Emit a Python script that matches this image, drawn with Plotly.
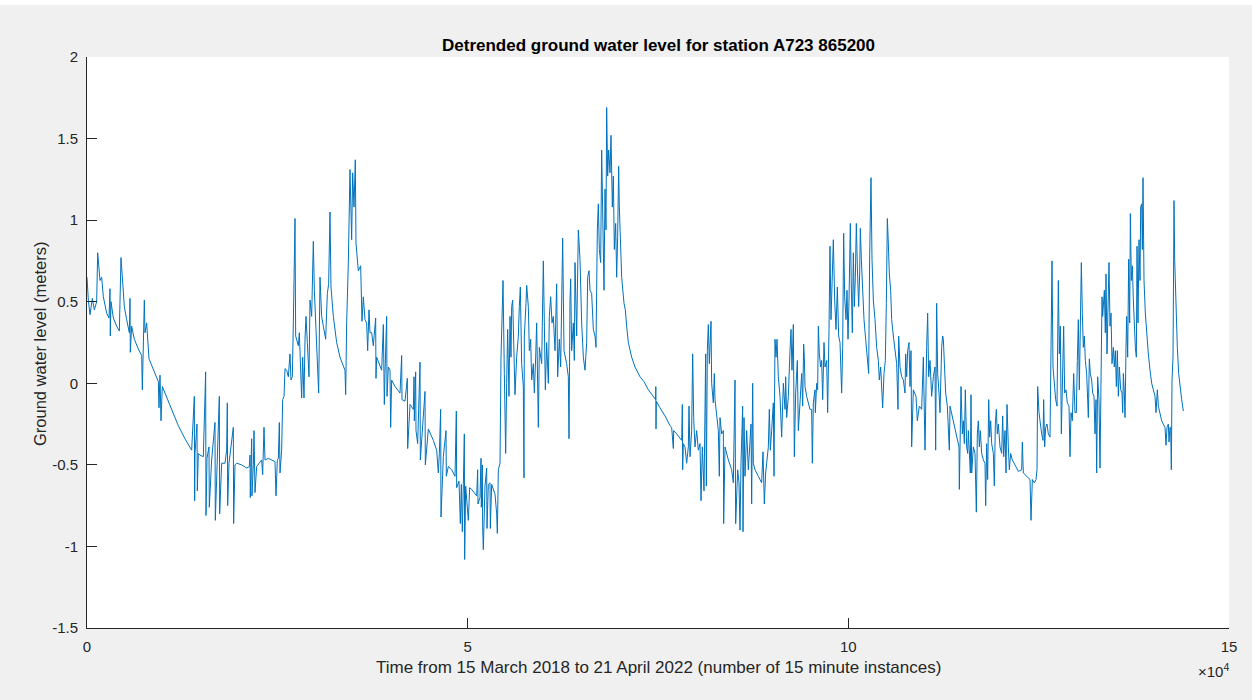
import plotly.graph_objects as go

# ---- data (time index in 15-minute instances, level in m) ----
time_2018a = [0, 175, 394, 700, 963, 1269, 1401, 1488, 1707, 1926,
              2145, 2583, 2889, 3020, 3060, 3152, 3458, 3896, 4246, 4465,
              4640, 4903, 5210, 5560, 5647, 5690, 5866, 6216, 6742, 7180,
              7267, 7400, 7530, 7617, 7836, 8143, 8712, 9369, 9456, 9587,
              9719, 9894, 10244, 11120, 11995, 12871, 13747, 14097, 14140, 14184,
              14447, 14490, 14622, 14841, 15279, 15585, 15630, 15760, 16023, 16065,
              16373, 16811, 16855, 17074, 17380, 17425, 17687, 18125, 18343, 18431,
              18475, 18650, 19219, 19260, 19438]
level_2018a = [0.65, 0.51, 0.42, 0.52, 0.45, 0.50, 0.80, 0.74, 0.63, 0.65,
               0.53, 0.43, 0.40, 0.58, 0.29, 0.50, 0.40, 0.35, 0.32, 0.77,
               0.63, 0.47, 0.39, 0.31, 0.52, 0.19, 0.35, 0.27, 0.21, 0.17,
               -0.04, 0.39, 0.51, 0.31, 0.37, 0.15, 0.08, 0.01, -0.15, 0.05,
               -0.23, -0.02, -0.06, -0.16, -0.26, -0.34, -0.41, -0.08, -0.72, -0.43,
               -0.25, -0.66, -0.43, -0.44, -0.45, 0.07, -0.81, -0.46, -0.39, -0.76,
               -0.47, -0.24, -0.84, -0.47, -0.08, -0.80, -0.49, -0.49, -0.41, -0.12,
               -0.75, -0.49, -0.27, -0.86, -0.50]

time_2018b = [19659, 20315, 20972, 21322, 21410, 21450, 21541, 21629, 21670, 21848,
              21935, 22067, 22285, 22723, 22942, 23073, 23249, 23380, 23818, 24256,
              24693, 24825, 25000, 25131, 25262, 25350, 25569, 25700, 25875, 26007,
              26226, 26445, 26663, 26795, 26970, 27101, 27189, 27320, 27408, 27758,
              27890, 28065, 28196, 28327, 28502, 28634, 28765, 28940, 29159, 29290,
              29509, 29728, 29860, 30078, 30253, 30428, 30604, 30823, 31041, 31348,
              31567, 31742, 31917, 32048, 32355, 32793, 33230, 33887, 33975, 34106,
              34325, 34544, 34763, 34894, 35069, 35244, 35332, 35638, 35945, 36120,
              36295, 36514, 36733, 36864, 37039, 37170, 37390, 37608, 37915, 37959,
              38046]
level_2018b = [-0.49, -0.50, -0.52, -0.51, -0.44, -0.70, -0.51, -0.34, -0.69, -0.50,
               -0.29, -0.67, -0.51, -0.48, -0.47, -0.56, -0.27, -0.47, -0.46, -0.47,
               -0.48, -0.69, -0.47, -0.46, -0.24, -0.55, -0.41, -0.10, -0.08, 0.09,
               0.08, 0.04, 0.18, 0.02, 0.04, 0.37, 0.61, 1.01, 0.29, 0.23,
               0.31, 0.10, -0.09, 0.16, -0.09, 0.27, 0.41, 0.25, 0.04, 0.51,
               0.41, 0.87, 0.57, 0.33, 0.14, -0.06, 0.65, 0.41, 0.35, 0.27,
               0.55, 0.61, 1.05, 0.59, 0.41, 0.25, 0.16, 0.08, -0.07, 0.37,
               0.74, 1.31, 0.88, 1.29, 1.08, 1.37, 0.86, 0.69, 0.72, 0.38,
               0.53, 0.39, 0.37, 0.20, 0.45, 0.31, 0.31, 0.23, 0.40, 0.03,
               0.16]

time_2019 = [38267, 38705, 38924, 39055, 39142, 39361, 39405, 39580, 39799, 39887,
             40018, 40456, 41113, 41331, 41375, 41769, 42076, 42120, 42426, 42864,
             42951, 42995, 43170, 43214, 43433, 43520, 43739, 43783, 44177, 44396,
             44440, 44834, 45491, 45928, 46147, 46279, 46454, 46498, 46804, 47154,
             47198, 47461, 47899, 48336, 48511, 48555, 48862, 49037, 49168, 49299,
             49431, 49562, 49606, 49737, 50087, 50264, 50525, 51182, 51313, 51357,
             51620, 51751, 51795, 51926, 51970, 52058, 52276, 52495, 52539, 52714,
             52933, 52977, 53152, 53590, 53809, 53897, 54028, 54247, 54378, 54553,
             54641, 54816, 54991, 55122, 55253, 55428, 55560, 55691, 55779, 55910,
             56041, 56216, 56435, 56654, 56785, 56917, 57092, 57311, 57398]
level_2019 = [0.13, 0.08, 0.36, -0.13, 0.06, 0.41, -0.08, 0.10, 0.08, -0.27,
              0.02, -0.02, -0.06, 0.17, -0.10, -0.11, 0.03, -0.40, -0.13, -0.16,
              0.04, -0.23, 0.07, -0.29, -0.37, -0.21, 0.13, -0.47, -0.23, -0.05,
              -0.50, -0.28, -0.35, -0.41, -0.55, -0.43, -0.16, -0.82, -0.45, -0.29,
              -0.57, -0.51, -0.53, -0.57, -0.17, -0.64, -0.60, -0.86, -0.62, -0.91,
              -0.62, -0.31, -1.08, -0.63, -0.84, -0.64, -0.65, -0.69, -0.53, -0.74,
              -0.70, -0.46, -0.76, -0.50, -0.88, -1.02, -0.63, -0.52, -0.89, -0.62,
              -0.61, -0.89, -0.62, -0.68, -0.80, -0.92, -0.53, -0.49, 0.16, 0.41,
              0.63, 0.06, -0.43, 0.00, 0.33, -0.08, 0.41, 0.16, 0.47, 0.51,
              0.22, -0.07, 0.16, 0.29, 0.47, 0.59, 0.12, -0.02, -0.58]

time_2020a = [57444, 57663, 57751, 57970, 58101, 58276, 58407, 58626, 58758, 58933,
              59064, 59283, 59414, 59721, 59940, 60071, 60202, 60377, 60596, 60728,
              60903, 61078, 61253, 61472, 61691, 61822, 62041, 62216, 62348, 62479,
              62654, 63004, 63223, 63311, 63442, 63530, 63661, 63880, 64011, 64099,
              64318, 64537, 64755, 64974, 65193, 65412, 65631, 65762, 65937, 66069,
              66288, 66507, 66726, 66857, 67032, 67163, 67295, 67470, 67601, 67732,
              67908, 68039, 68170, 68258, 68389, 68520, 68696, 68827, 69002, 69133,
              69265, 69440, 69571, 69702, 69834, 69921, 70009, 70228, 70534, 70709,
              70884, 71103, 71541, 71979, 72636, 73161, 73730, 74387, 74693, 74713,
              74737, 74780, 75263, 75919, 76576]
level_2020a = [0.29, 0.49, 0.60, 0.47, 0.20, 0.27, 0.02, 0.12, -0.06, 0.16,
               0.37, -0.27, 0.22, 0.12, 0.75, 0.37, -0.04, 0.25, 0.00, 0.41,
               0.53, 0.37, 0.41, 0.20, 0.61, 0.04, 0.27, 0.10, 0.55, 0.89,
               0.20, 0.12, 0.04, -0.34, 0.51, 0.64, 0.20, 0.37, 0.14, 0.74,
               0.29, 0.94, 0.76, 0.37, 0.16, 0.08, 0.25, 0.65, 0.69, 0.57,
               0.55, 0.33, 0.29, 0.22, 0.94, 1.10, 0.82, 0.74, 1.43, 1.14,
               0.57, 1.19, 0.94, 1.69, 1.27, 1.43, 1.29, 1.52, 1.08, 1.27,
               0.82, 0.98, 0.65, 0.90, 1.33, 1.08, 0.92, 0.65, 0.49, 0.45,
               0.35, 0.25, 0.16, 0.10, 0.04, 0.01, -0.04, -0.08, -0.10, -0.02,
               -0.28, -0.11, -0.15, -0.20, -0.26]

time_2020b = [76796, 77015, 77060, 77452, 78109, 78197, 78240, 78328, 78547, 78766,
              78985, 79072, 79204, 79422, 79554, 79685, 79860, 80079, 80298, 80517,
              80648, 80823, 81042, 81174, 81261, 81349, 81480, 81611, 81743, 81962,
              82049, 82268, 82399, 82487, 82706, 82925, 83056, 83144, 83363, 83582,
              83625, 83800, 84238, 84676, 84895, 85114, 85201, 85464, 85639, 85771,
              85902, 86121, 86165, 86296, 86427, 86646, 86865, 87084, 87215, 87303,
              87434, 87522, 87741, 88178, 88616, 88791, 88966, 89142, 89273, 89492,
              89623, 89754, 89930, 90149, 90236, 90367, 90499, 90630, 90805, 91024,
              91243, 91462, 91681, 91768, 91900, 92119, 92338, 92469, 92600, 92775,
              92907, 93082, 93301, 93432, 93651, 93870, 94001, 94133, 94220, 94308,
              94527, 94745, 94964, 95183, 95271, 95402, 95621]
level_2020b = [-0.27, -0.40, -0.29, -0.31, -0.35, -0.13, -0.53, -0.37, -0.39, -0.49,
               -0.39, -0.14, -0.45, -0.29, 0.18, -0.21, -0.39, -0.29, -0.41, -0.37,
               -0.72, -0.39, -0.66, -0.16, 0.18, -0.63, 0.20, 0.36, 0.12, 0.38,
               0.00, -0.12, 0.06, -0.10, -0.21, -0.29, -0.57, -0.21, -0.31, -0.29,
               -0.86, -0.39, -0.47, -0.53, -0.61, 0.02, -0.86, -0.53, -0.61, -0.90,
               -0.49, -0.14, -0.91, -0.21, -0.57, -0.29, -0.53, -0.39, -0.25, -0.74,
               0.00, -0.49, -0.53, -0.57, -0.61, -0.42, -0.74, -0.55, -0.49, -0.39,
               -0.16, -0.41, -0.29, -0.12, -0.57, 0.27, 0.16, 0.27, 0.04, -0.08,
               -0.33, 0.00, -0.16, 0.04, -0.21, -0.08, 0.20, 0.33, 0.08, 0.36,
               -0.45, -0.06, 0.14, -0.29, -0.12, 0.06, -0.14, 0.24, 0.16, -0.02,
               -0.08, -0.12, -0.16, -0.16, -0.49, -0.12, -0.04]

time_2021a = [95666, 95842, 95973, 96061, 96192, 96367, 96498, 96630, 96805, 96936,
              97155, 97286, 97461, 97593, 97724, 97899, 98031, 98206, 98381, 98556,
              98731, 98906, 99038, 99125, 99256, 99388, 99519, 99694, 99826, 99957,
              100088, 100176, 100263, 100395, 100526, 100657, 100789, 100920, 101051, 101183,
              101358, 101489, 101577, 101708, 101883, 102058, 102277, 102496, 102671, 102803,
              102890, 102978, 103109, 103284, 103503, 103722, 103941, 104072, 104247, 104378,
              104510, 104685, 104860, 104991, 105123, 105254, 105385, 105561, 105692, 105911,
              106130, 106349, 106524, 106611, 106787, 107005, 107224, 107443, 107531, 107662,
              107793, 107968, 108100, 108231, 108319, 108538, 108888, 109063, 109326, 109632,
              109851, 110070, 110289, 110420, 110552, 110727, 110946, 111165, 111384, 111471,
              111602, 111734, 111909, 112040, 112259, 112390, 112478, 112609, 112784, 113003,
              113266, 113354, 113791, 114229, 114536, 114580]
level_2021a = [-0.18, 0.00, -0.04, 0.35, 0.18, 0.10, 0.14, -0.10, 0.25, 0.10,
               0.14, -0.18, 0.33, 0.84, 0.39, 0.80, 0.88, 0.51, 0.33, 0.59,
               0.29, 0.25, 0.10, -0.06, 0.22, 0.92, 0.53, 0.39, 0.57, 0.27,
               0.51, 0.84, 0.98, 0.59, 0.31, 0.80, 0.47, 0.65, 0.98, 0.72,
               0.47, 0.67, 0.95, 0.76, 0.55, 0.39, 0.27, 0.16, 0.06, 0.78,
               0.94, 1.26, 0.76, 0.51, 0.39, 0.22, 0.14, 0.02, 0.10, -0.06,
               -0.15, 0.06, 0.14, 0.49, 1.01, 0.86, 0.67, 0.57, 0.39, 0.29,
               0.22, 0.12, -0.16, 0.29, 0.10, 0.04, 0.02, -0.06, 0.18, 0.04,
               0.20, 0.25, -0.02, 0.20, -0.39, -0.04, -0.08, -0.23, -0.14, -0.16,
               0.16, -0.41, 0.22, 0.43, 0.04, 0.14, -0.08, 0.04, 0.10, -0.41,
               0.49, 0.06, -0.06, -0.18, 0.22, 0.29, 0.27, 0.10, -0.06, -0.14,
               -0.41, -0.14, -0.23, -0.31, -0.39, -0.65]

time_2021b = [114800, 114975, 115107, 115238, 115369, 115544, 115676, 115763, 115895, 116026,
              116113, 116201, 116420, 116639, 116814, 116945, 117077, 117208, 117339, 117514,
              117733, 117952, 118040, 118171, 118302, 118434, 118565, 118696, 118828, 119047,
              119178, 119309, 119441, 119572, 119703, 119922, 120141, 120273, 120404, 120579,
              120710, 120842, 121017, 121148, 121323, 121542, 121892, 122330, 122768, 122856,
              122987, 123425, 123863, 123994, 124169, 124432, 124651, 124782, 124869, 125045,
              125220, 125395, 125570, 125657, 125789, 125920, 126095, 126270, 126489, 126621,
              126752, 126883, 127058, 127233, 127409, 127584, 127715, 127846, 127978, 128109,
              128284, 128415, 128590, 128766, 128985, 129116, 129247, 129423, 129598, 129773,
              129948, 130079, 130211, 130342, 130473, 130605, 130736, 130867, 130999, 131130,
              131305, 131524, 131655, 131787, 131962, 132093, 132268, 132400, 132531, 132619,
              132750, 132925, 133056, 133187, 133319, 133406]
level_2021b = [-0.02, -0.31, -0.23, -0.37, -0.04, -0.39, -0.43, -0.29, -0.41, -0.55,
               -0.07, -0.55, -0.39, -0.43, -0.79, -0.31, -0.23, -0.39, -0.29, -0.43,
               -0.47, -0.49, -0.75, -0.37, -0.59, -0.10, -0.33, -0.23, -0.37, -0.43,
               -0.63, -0.25, -0.16, -0.31, -0.25, -0.39, -0.43, -0.20, -0.45, -0.29,
               -0.55, -0.13, -0.39, -0.53, -0.43, -0.47, -0.50, -0.54, -0.53, -0.36,
               -0.55, -0.57, -0.59, -0.84, -0.59, -0.61, -0.59, -0.53, -0.02, -0.18,
               -0.25, -0.31, -0.35, -0.10, -0.39, -0.27, -0.25, -0.31, -0.33, 0.45,
               0.75, 0.10, -0.02, -0.10, -0.14, 0.63, 0.18, 0.35, -0.31, 0.06,
               0.35, -0.06, -0.04, -0.12, -0.14, -0.45, -0.18, -0.23, 0.06, -0.18,
               -0.18, 0.14, 0.39, -0.04, 0.49, 0.74, 0.43, 0.22, 0.29, 0.14,
               0.06, -0.21, 0.15, 0.06, 0.02, -0.06, -0.08, -0.31, -0.10, -0.55,
               0.04, -0.10, -0.52, -0.06, 0.53, 0.41]

time_2022 = [133627, 133758, 133846, 133977, 134109, 134240, 134371, 134503, 134634, 134809,
             134940, 135072, 135203, 135335, 135466, 135597, 135772, 135947, 136035, 136123,
             136254, 136342, 136473, 136560, 136692, 136823, 136954, 137042, 137173, 137305,
             137436, 137567, 137699, 137830, 137918, 138049, 138180, 138312, 138399, 138531,
             138618, 138706, 138837, 139012, 139187, 139406, 139625, 139844, 140063, 140282,
             140413, 140588, 140720, 140938, 141157, 141376, 141595, 141726, 141858, 142033,
             142120, 142252, 142339, 142427, 142514, 142646, 142777, 142865, 143040, 143215,
             143390, 143565, 143784, 144003]
level_2022 = [0.57, 0.31, 0.67, 0.18, 0.45, 0.74, 0.35, 0.43, 0.12, 0.22,
              0.10, 0.20, -0.02, 0.20, -0.08, 0.10, -0.04, -0.06, -0.18, 0.06,
              -0.06, -0.21, 0.22, 0.41, 0.16, 0.76, 0.37, 1.04, 0.63, 0.72,
              0.51, 0.35, 0.22, 0.16, 0.84, 0.37, 0.88, 0.63, 1.08, 1.10,
              0.82, 1.26, 0.63, 0.43, 0.29, 0.18, 0.08, 0.00, -0.04, -0.08,
              -0.18, -0.04, -0.14, -0.18, -0.23, -0.25, -0.27, -0.38, -0.27, -0.25,
              -0.36, -0.27, -0.27, -0.53, 0.02, 0.16, 1.12, 0.76, 0.45, 0.22,
              0.06, -0.02, -0.10, -0.17]

x_tick_values = [0, 50000, 100000, 150000]
x_tick_labels = ["0", "5", "10", "15"]
y_tick_values = [-1.5, -1, -0.5, 0, 0.5, 1, 1.5, 2]
y_tick_labels = ["-1.5", "-1", "-0.5", "0", "0.5", "1", "1.5", "2"]

time_idx = (time_2018a + time_2018b + time_2019 + time_2020a + time_2020b
            + time_2021a + time_2021b + time_2022)
level = (level_2018a + level_2018b + level_2019 + level_2020a + level_2020b
         + level_2021a + level_2021b + level_2022)

FONT = "Liberation Sans, Arial, Helvetica, sans-serif"
AX = "#262626"

fig = go.Figure(go.Scatter(x=time_idx, y=level, mode="lines",
                           line=dict(color="#0072BD", width=1), hoverinfo="x+y"))

fig.update_layout(
    width=1252, height=700,
    margin=dict(l=87, r=23, t=57, b=72, pad=0),
    paper_bgcolor="#f0f0f0", plot_bgcolor="#ffffff",
    showlegend=False,
    font=dict(family=FONT, size=15, color=AX),
    xaxis=dict(range=[0, 150000], tickvals=x_tick_values, ticktext=x_tick_labels,
               ticks="inside", ticklen=10, tickwidth=1, tickcolor=AX,
               showline=True, linecolor=AX, linewidth=1, mirror=False,
               showgrid=False, zeroline=False, ticklabelstandoff=5,
               tickfont=dict(family=FONT, size=15, color=AX)),
    yaxis=dict(range=[-1.5, 2], tickvals=y_tick_values, ticktext=y_tick_labels,
               ticks="inside", ticklen=10, tickwidth=1, tickcolor=AX,
               showline=True, linecolor=AX, linewidth=1, mirror=False,
               showgrid=False, zeroline=False, ticklabelstandoff=5,
               tickfont=dict(family=FONT, size=15, color=AX)),
    shapes=[dict(type="rect", xref="paper", yref="paper",
                 x0=-0.1, x1=1.03, y0=1.0911, y1=1.11,
                 fillcolor="#ffffff", line=dict(width=0), layer="below")],
    annotations=[
        dict(text="<b>Detrended ground water level for station A723 865200</b>",
             xref="paper", yref="paper", x=0.5, y=1.021, xanchor="center", yanchor="middle",
             showarrow=False, font=dict(family=FONT, size=17, color="#000000")),
        dict(text="Time from 15 March 2018 to 21 April 2022 (number of 15 minute instances)",
             xref="paper", yref="paper", x=0.5, y=-0.070, xanchor="center", yanchor="middle",
             showarrow=False, font=dict(family=FONT, size=17, color=AX)),
        dict(text="Ground water level (meters)",
             xref="paper", yref="paper", x=-0.0412, y=0.499, xanchor="center", yanchor="middle",
             textangle=-90, showarrow=False, font=dict(family=FONT, size=16.5, color=AX)),
        dict(text="×10<sup>4</sup>",
             xref="paper", yref="paper", x=1.0018, y=-0.0753, xanchor="right", yanchor="middle",
             showarrow=False, font=dict(family=FONT, size=15, color=AX)),
    ],
)

fig.write_html("out.html")
